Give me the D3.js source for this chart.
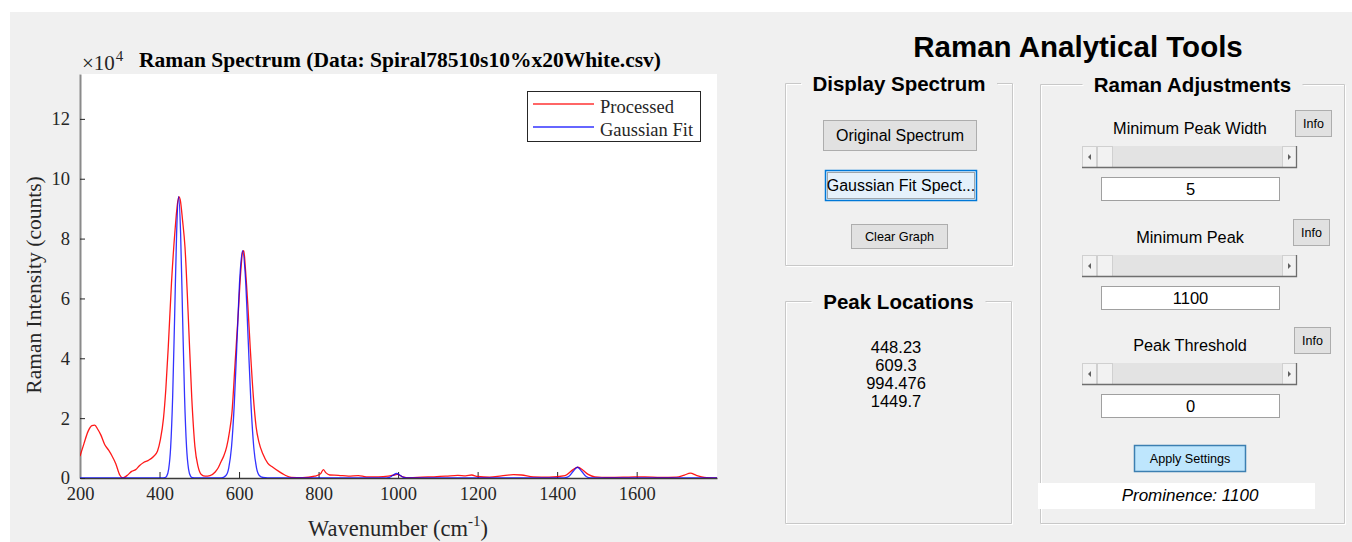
<!DOCTYPE html>
<html>
<head>
<meta charset="utf-8">
<script src="https://cdn.jsdelivr.net/npm/d3@7"></script>
<style>
  html, body { margin: 0; padding: 0; background: #ffffff; }
  svg { display: block; }
  .serif { font-family: "Liberation Serif", "Times New Roman", serif; }
  .sans { font-family: "Liberation Sans", Arial, sans-serif; }
</style>
</head>
<body>
<svg id="app" width="1352" height="542"></svg>
<script>
// ---- Spectrum data (wavenumber in cm^-1, intensity in counts) ----
const processedWavenumber = [
  200, 210, 220, 230, 237, 245, 252, 262, 272, 280, 290, 300, 308, 318, 330, 340, 350, 360, 372, 385,
  395, 402, 410, 416, 422, 430, 439, 445, 449, 452, 458, 464, 472, 481, 489, 497, 505, 515, 527, 540,
  548, 555, 562, 569, 576, 582, 590, 598, 604, 609, 612, 616, 622, 628, 636, 643, 650, 660, 672, 685,
  700, 715, 731, 760, 790, 805, 812, 818, 828, 850, 875, 900, 920, 950, 975, 990, 998, 1010, 1030, 1060,
  1090, 1120, 1150, 1170, 1185, 1200, 1230, 1260, 1290, 1310, 1340, 1380, 1420, 1440, 1452, 1465, 1478, 1495, 1530, 1580,
  1620, 1660, 1700, 1720, 1735, 1750, 1770, 1802
];
const processedCounts = [
  7300, 11500, 15500, 17500, 17700, 16200, 14500, 11200, 9300, 7500, 4800, 1000, 0, 800, 2200, 2800, 4200, 5200, 5900, 7200,
  9000, 12700, 20000, 30000, 43800, 65000, 82800, 91500, 94000, 93000, 86000, 77200, 55000, 27000, 10500, 3800, 1200, 600, 800, 2000,
  3500, 5500, 7500, 10500, 15500, 21600, 38300, 55000, 68400, 75500, 76000, 70000, 58000, 43800, 27100, 17000, 12000, 8000, 5000, 3600,
  2200, 1000, 200, 100, 600, 1400, 2800, 1800, 1000, 900, 600, 800, 400, 400, 600, 1000, 1200, 500, 100, 300,
  400, 600, 900, 700, 1000, 500, 300, 700, 1100, 1000, 400, 300, 800, 2800, 3600, 2600, 1200, 400, 200, 300,
  400, 200, 300, 1000, 1600, 900, 200, 0
];
const fitWavenumber = [
  200, 405, 413, 418, 423, 428, 433, 438, 443, 448, 453, 458, 463, 468, 473, 478, 483, 492,
  555, 567, 574, 581, 588, 595, 602, 609, 616, 623, 630, 637, 644, 651, 660, 672,
  965, 978, 987, 996, 1005, 1014, 1027,
  1410, 1418, 1429, 1440, 1451, 1462, 1473, 1484, 1495, 1802
];
const fitCounts = [
  0, 0, 105, 640, 2950, 10250, 27000, 54000, 81900, 94000, 81900, 54000, 27000, 10250, 2950, 640, 105, 0,
  0, 845, 3340, 10280, 24680, 46100, 67070, 76000, 67070, 46100, 24680, 10280, 3340, 845, 166, 0,
  0, 200, 910, 1500, 910, 200, 0,
  0, 40, 490, 2180, 3600, 2180, 490, 40, 0, 0
];
const xTicks = [200, 400, 600, 800, 1000, 1200, 1400, 1600];
const yTicks = [0, 20000, 40000, 60000, 80000, 100000, 120000];
const legendLabels = ["Processed", "Gaussian Fit"];
const seriesColors = ["#ff0000", "#0000ff"];
const peakLocations = ["448.23", "609.3", "994.476", "1449.7"];

const svg = d3.select("#app");

// window background
svg.append("rect").attr("x", 10).attr("y", 12).attr("width", 1342).attr("height", 530).attr("fill", "#f0f0f0");

// ---------------- Spectrum axes ----------------
const plot = { left: 80, right: 717, top: 74, bottom: 478 };
const x = d3.scaleLinear().domain([200, 1802]).range([plot.left, plot.right]);
const y = d3.scaleLinear().domain([0, 135000]).range([plot.bottom, plot.top]);

svg.append("rect").attr("x", plot.left).attr("y", plot.top)
  .attr("width", plot.right - plot.left).attr("height", plot.bottom - plot.top).attr("fill", "#ffffff");

svg.append("defs").append("clipPath").attr("id", "plotClip")
  .append("rect").attr("x", plot.left).attr("y", plot.top - 2)
  .attr("width", plot.right - plot.left).attr("height", plot.bottom - plot.top + 2);

const xAxis = svg.append("g").attr("class", "serif")
  .attr("transform", `translate(0,${plot.bottom})`)
  .call(d3.axisBottom(x).tickValues(xTicks).tickSizeInner(-6).tickSizeOuter(0).tickPadding(9).tickFormat(d3.format("d")));
xAxis.select(".domain").attr("stroke", "#3a3a3a").attr("stroke-width", 1.4);
xAxis.selectAll(".tick line").attr("stroke", "#262626");
xAxis.selectAll(".tick text").attr("font-size", 18.5).attr("fill", "#262626").attr("font-family", "Liberation Serif");

const yAxis = svg.append("g").attr("class", "serif")
  .attr("transform", `translate(${plot.left},0)`)
  .call(d3.axisLeft(y).tickValues(yTicks).tickSizeInner(-5).tickSizeOuter(0).tickPadding(10).tickFormat(d => d / 10000));
yAxis.select(".domain").attr("stroke", "#8a8a8a").attr("stroke-width", 2);
yAxis.selectAll(".tick line").attr("stroke", "#262626");
yAxis.selectAll(".tick text").attr("font-size", 18.5).attr("fill", "#262626").attr("font-family", "Liberation Serif");

// ---------------- Curves ----------------
const line = d3.line().x(d => x(d[0])).y(d => y(d[1])).curve(d3.curveMonotoneX);
const curves = svg.append("g").attr("clip-path", "url(#plotClip)");
curves.append("path")
  .attr("d", line(d3.zip(processedWavenumber, processedCounts)))
  .attr("fill", "none").attr("stroke", seriesColors[0]).attr("stroke-width", 1.3).attr("stroke-opacity", 0.9);
curves.append("path")
  .attr("d", line(d3.zip(fitWavenumber, fitCounts)))
  .attr("fill", "none").attr("stroke", seriesColors[1]).attr("stroke-width", 1.3).attr("stroke-opacity", 0.8);

// ---------------- Titles and labels ----------------
const exp = svg.append("text").attr("class", "serif").attr("x", 82).attr("y", 70)
  .attr("font-size", 21).attr("fill", "#262626");
exp.append("tspan").text("\u00d710");
exp.append("tspan").attr("font-size", 15).attr("dy", -9).attr("dx", 1).text("4");

svg.append("text").attr("class", "serif").attr("x", 400).attr("y", 67)
  .attr("text-anchor", "middle").attr("font-size", 21.5).attr("font-weight", "bold").attr("fill", "#000")
  .text("Raman Spectrum (Data: Spiral78510s10%x20White.csv)");

svg.append("text").attr("class", "serif")
  .attr("transform", "translate(41,285) rotate(-90)")
  .attr("text-anchor", "middle").attr("font-size", 21.5).attr("fill", "#262626")
  .text("Raman Intensity (counts)");

const xl = svg.append("text").attr("class", "serif").attr("x", 398).attr("y", 536)
  .attr("text-anchor", "middle").attr("font-size", 22.5).attr("fill", "#262626");
xl.append("tspan").text("Wavenumber (cm");
xl.append("tspan").attr("font-size", 15).attr("dy", -10).text("-1");
xl.append("tspan").attr("dy", 10).text(")");

// legend
const legend = svg.append("g");
legend.append("rect").attr("x", 527.5).attr("y", 91.5).attr("width", 173).attr("height", 50)
  .attr("fill", "#ffffff").attr("stroke", "#262626").attr("stroke-width", 1);
legendLabels.forEach((lab, i) => {
  const ly = 104 + i * 23;
  legend.append("line").attr("x1", 533).attr("x2", 594).attr("y1", ly).attr("y2", ly)
    .attr("stroke", seriesColors[i]).attr("stroke-width", 1.3).attr("stroke-opacity", 0.8);
  legend.append("text").attr("class", "serif").attr("x", 600).attr("y", ly + 9)
    .attr("font-size", 18.5).attr("fill", "#262626").text(lab);
});

// ---------------- Control panel ----------------
const ui = svg.append("g").attr("class", "sans");

ui.append("text").attr("x", 1078).attr("y", 57).attr("text-anchor", "middle")
  .attr("font-size", 29.5).attr("font-weight", "bold").attr("fill", "#000").text("Raman Analytical Tools");

function groupBox(x0, y0, x1, y1, title, tw) {
  const cx = (x0 + x1) / 2;
  const g = ui.append("g");
  const pts = [[cx - tw / 2, y0], [x0, y0], [x0, y1], [x1, y1], [x1, y0], [cx + tw / 2, y0]];
  g.append("path").attr("d", d3.line()(pts.map(p => [p[0] + 1, p[1] + 1])))
    .attr("fill", "none").attr("stroke", "#ffffff").attr("stroke-width", 1);
  g.append("path").attr("d", d3.line()(pts))
    .attr("fill", "none").attr("stroke", "#c8c8c8").attr("stroke-width", 1);
  g.append("text").attr("x", cx).attr("y", y0 + 7.5).attr("text-anchor", "middle")
    .attr("font-size", 20.5).attr("font-weight", "bold").attr("fill", "#000").text(title);
}
groupBox(785.5, 83.5, 1012.5, 265.5, "Display Spectrum", 196);
groupBox(785.5, 301.5, 1011.5, 523.5, "Peak Locations", 174);
groupBox(1040.5, 84.5, 1344.5, 523.5, "Raman Adjustments", 220);

function button(x0, y0, w, h, label, size, style) {
  const g = ui.append("g");
  const fill = style === "focus" ? "#e5f1fb" : style === "apply" ? "#bee6fd" : "#e1e1e1";
  const stroke = style === "focus" ? "#0078d7" : style === "apply" ? "#3c7fb1" : "#adadad";
  g.append("rect").attr("x", x0 + 0.5).attr("y", y0 + 0.5).attr("width", w - 1).attr("height", h - 1)
    .attr("fill", fill).attr("stroke", stroke).attr("stroke-width", style ? 1.5 : 1);
  if (style === "focus") {
    g.append("rect").attr("x", x0 + 2.5).attr("y", y0 + 2.5).attr("width", w - 5).attr("height", h - 5)
      .attr("fill", "none").attr("stroke", "#333").attr("stroke-width", 0.8).attr("stroke-dasharray", "1,1");
  }
  g.append("text").attr("x", x0 + w / 2).attr("y", y0 + h / 2 + size * 0.36).attr("text-anchor", "middle")
    .attr("font-size", size).attr("fill", "#000").text(label);
}
button(823, 120, 154, 31, "Original Spectrum", 16);
button(825, 170, 152, 31, "Gaussian Fit Spect...", 16, "focus");
button(851, 224, 97, 25, "Clear Graph", 12.7);

peakLocations.forEach((p, i) => {
  ui.append("text").attr("x", 896).attr("y", 353 + i * 18).attr("text-anchor", "middle")
    .attr("font-size", 16.5).attr("fill", "#000").text(p);
});

function slider(x0, y0, w, h) {
  const g = ui.append("g");
  g.append("rect").attr("x", x0).attr("y", y0).attr("width", w).attr("height", h).attr("fill", "#e3e3e3");
  // end buttons and thumb
  [[x0, 15], [x0 + 15, 16], [x0 + w - 15, 15]].forEach(([bx, bw]) => {
    g.append("rect").attr("x", bx + 0.5).attr("y", y0 + 0.5).attr("width", bw - 1).attr("height", h - 1)
      .attr("fill", "#f2f2f2").attr("stroke", "#d0d0d0");
  });
  g.append("path").attr("d", `M${x0 + 9},${y0 + h / 2 - 3}L${x0 + 6},${y0 + h / 2}L${x0 + 9},${y0 + h / 2 + 3}Z`).attr("fill", "#606060");
  g.append("path").attr("d", `M${x0 + w - 9},${y0 + h / 2 - 3}L${x0 + w - 6},${y0 + h / 2}L${x0 + w - 9},${y0 + h / 2 + 3}Z`).attr("fill", "#606060");
  g.append("path").attr("d", `M${x0},${y0 + h - 0.5}H${x0 + w - 0.5}V${y0}`)
    .attr("fill", "none").attr("stroke", "#6e6e6e").attr("stroke-width", 1.3);
}
function textBox(x0, y0, w, h, val) {
  ui.append("rect").attr("x", x0 + 0.5).attr("y", y0 + 0.5).attr("width", w - 1).attr("height", h - 1)
    .attr("fill", "#ffffff").attr("stroke", "#a0a0a0");
  ui.append("text").attr("x", x0 + w / 2).attr("y", y0 + h / 2 + 6).attr("text-anchor", "middle")
    .attr("font-size", 16.5).attr("fill", "#000").text(val);
}

const settingLabels = ["Minimum Peak Width", "Minimum Peak", "Peak Threshold"];
const settingValues = ["5", "1100", "0"];
const rowTops = [128, 237, 345];
const infoX = [1295, 1293, 1294];
settingLabels.forEach((lab, i) => {
  const t = rowTops[i];
  ui.append("text").attr("x", 1190).attr("y", t + 6).attr("text-anchor", "middle")
    .attr("font-size", 16.3).attr("fill", "#000").text(lab);
  button(infoX[i], t - 18, 37, 27, "Info", 12.5);
  slider(1082, t + 18, 215, 22);
  textBox(1101, t + 49, 179, 24, settingValues[i]);
});

button(1134, 445, 112, 27, "Apply Settings", 12.6, "apply");

ui.append("rect").attr("x", 1038).attr("y", 483).attr("width", 277).attr("height", 26).attr("fill", "#ffffff");
ui.append("text").attr("x", 1190).attr("y", 500.5).attr("text-anchor", "middle")
  .attr("font-size", 17).attr("font-style", "italic").attr("fill", "#000").text("Prominence: 1100");
</script>
</body>
</html>
